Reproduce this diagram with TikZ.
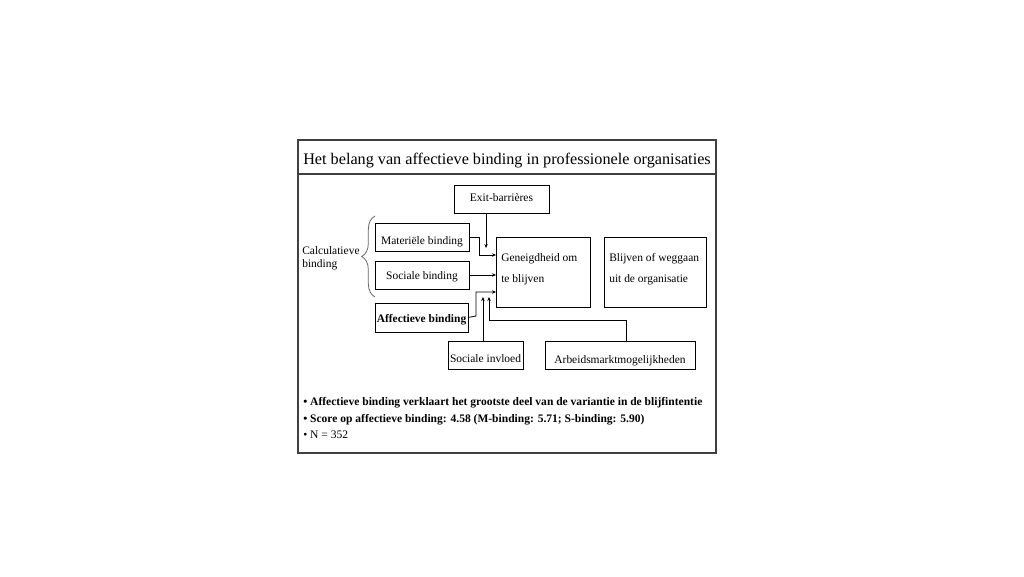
\documentclass[tikz,border=0pt]{standalone}
\usepackage{fontspec}
\setmainfont{Liberation Serif}
\usetikzlibrary{arrows.meta,decorations.pathreplacing}
\begin{document}
\begin{tikzpicture}[x=0.75pt,y=-0.75pt,
  box/.style={draw=black,line width=0.75pt,inner sep=0pt,outer sep=0pt,text depth=1.9pt,font=\fontsize{8.6pt}{10pt}\selectfont},
  lbl/.style={inner sep=0pt,anchor=base west,font=\fontsize{8.6pt}{10pt}\selectfont},
  conn/.style={draw=black,line width=0.6pt},
  arr/.style={conn,-{Stealth[length=3pt,width=2.6pt]}},
  bul/.style={inner sep=0pt,anchor=base west,font=\fontsize{8.65pt}{10pt}\selectfont}
]
\useasboundingbox (0,0) rectangle (1024,576);
% frame
\node[draw=black!75,line width=1pt,minimum width=313.5pt,minimum height=234.75pt,inner sep=0pt,outer sep=0pt] (frame) at (507,296.5) {};
\draw[draw=black!75,line width=0.8pt] (298,174) -- (716,174);
\node[inner sep=0pt,anchor=base west,font=\fontsize{12.15pt}{14pt}\selectfont] (title) at (303,164) {Het belang van affectieve binding in professionele organisaties};
% boxes
\node[box,text height=5.9pt,minimum width=71.25pt,minimum height=21pt] (exit) at (501.5,199) {Exit-barrières};
\node[box,text height=12.9pt,minimum width=70.5pt,minimum height=21pt] (mat) at (422,237) {Materiële binding};
\node[box,text height=7.9pt,minimum width=70.5pt,minimum height=21pt] (soc) at (422,275) {Sociale binding};
\node[box,text height=9.1pt,minimum width=69.75pt,minimum height=21.75pt] (aff) at (421.5,317.5) {\bfseries Affectieve binding};
\node[box,minimum width=70.5pt,minimum height=52.5pt] (gen) at (543,272) {};
\node[box,minimum width=76.5pt,minimum height=52.5pt] (blij) at (655,272) {};
\node[box,text height=13.5pt,minimum width=56.25pt,minimum height=21pt] (socinv) at (485.5,355) {Sociale invloed};
\node[box,text height=14.3pt,minimum width=112.5pt,minimum height=21pt] (arb) at (620,355) {Arbeidsmarktmogelijkheden};
\node[lbl] (gen1) at (501,261.7) {Geneigdheid om};
\node[lbl] (gen2) at (501,282.3) {te blijven};
\node[lbl] (blij1) at (609,261.7) {Blijven of weggaan};
\node[lbl] (blij2) at (609,282.3) {uit de organisatie};
\node[lbl] (calc1) at (302,254) {Calculatieve};
\node[lbl] (calc2) at (302,267.3) {binding};
% brace
\draw[black!60,line width=0.6pt,decorate,decoration={brace,amplitude=10pt}] (375,297) -- (375,216);
% connectors
\draw[arr] (mat.east) -- ++(10,0) |- ([yshift=12.75pt]gen.west);
\draw[arr] (soc.east) -- (soc.east -| gen.west);
\draw[arr] (aff.east) -- ++(8,-1.5) |- ([yshift=-15pt]gen.west);
\draw[arr] ([xshift=-11.6pt]exit.south) -- ++(0,35);
\draw[arr] ([xshift=-1.9pt]socinv.north) -- ++(0,-44);
\draw[arr] ([xshift=4.5pt]arb.north) -- ++(0,-21) -| ++(-137,-23);
% bullets
\node[bul] (b1) at (303,405.7) {\bfseries • Affectieve binding verklaart het grootste deel van de variantie in de blijfintentie};
\node[bul] (b2) at (303,422.3) {\bfseries • Score op affectieve binding: 4.58 (M-binding: 5.71; S-binding: 5.90)};
\node[bul] (b3) at (303,438.3) {• N = 352};
\end{tikzpicture}
\end{document}
